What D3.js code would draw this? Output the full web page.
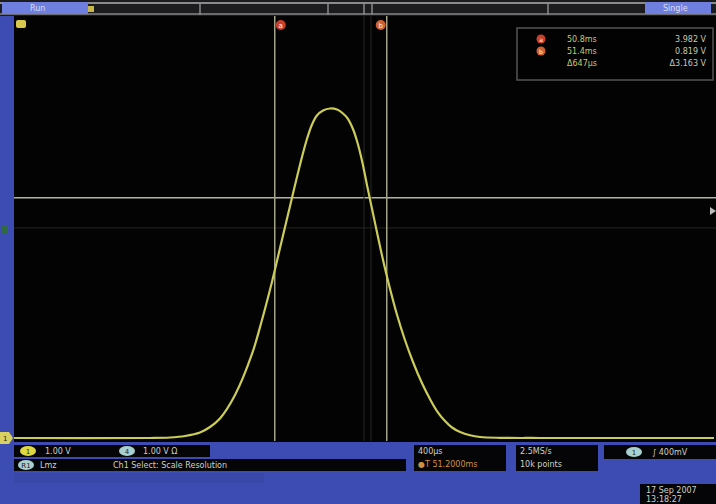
<!doctype html>
<html>
<head>
<meta charset="utf-8">
<title>Scope capture</title>
<script src="https://d3js.org/d3.v7.min.js"></script>
<style>
  body { margin: 0; background: #3d4cb3; }
  svg { display: block; }
  text { font-family: "DejaVu Sans", sans-serif; }
</style>
</head>
<body>
<script>
// trace: time in ms from left edge, volts
var timeMs = [0, 0.777, 0.891, 0.977, 1.063, 1.120, 1.177, 1.263, 1.360, 1.417, 1.474, 1.531, 1.589, 1.634, 1.674, 1.703, 1.731, 1.766, 1.806,
  1.846, 1.880, 1.909, 1.937, 1.960, 1.989, 2.017, 2.046, 2.080, 2.114, 2.149, 2.189, 2.234, 2.280, 2.331, 2.377, 2.417, 2.463, 2.503, 2.549, 2.606, 2.663, 2.777, 3.006, 4.0];
var volts  = [-3.943, -3.943, -3.934, -3.906, -3.840, -3.736, -3.575, -3.132, -2.358, -1.717, -1.000, -0.208, 0.594, 1.208, 1.698, 1.972, 2.142, 2.236, 2.274,
  2.255, 2.179, 2.075, 1.887, 1.660, 1.283, 0.830, 0.377, -0.151, -0.660, -1.132, -1.623, -2.094, -2.509, -2.906, -3.208, -3.434, -3.623, -3.745, -3.830, -3.892, -3.925, -3.940, -3.943, -3.943];

var cursorTimes = [1.49, 2.13];   // a, b vertical cursors
var cursorNames = ["a", "b"];
var markerShift = [6, -6];
var dimTimes = [2.00, 2.04];
var hCursorVolts = [0.59, 0.02];

var readLeft = ["50.8ms", "51.4ms", "Δ647μs"];
var readRight = ["3.982 V", "0.819 V", "Δ3.163 V"];

var W = 716, H = 504;
var svg = d3.select("body").append("svg").attr("width", W).attr("height", H);

// blue bezel
svg.append("rect").attr("width", W).attr("height", H).attr("fill", "#3d4cb3");

// screen
var x = d3.scaleLinear().domain([0, 4]).range([14, 714]);
var y = d3.scaleLinear().domain([-4, 4]).range([441, 17]);

svg.append("rect").attr("x", 14).attr("y", 16).attr("width", 702).attr("height", 426).attr("fill", "#030303");

// top bar
svg.append("rect").attr("x", 0).attr("y", 0).attr("width", W).attr("height", 16).attr("fill", "#1c1c1e");
svg.append("rect").attr("x", 0).attr("y", 2).attr("width", W).attr("height", 2).attr("fill", "#8a8a8a");
svg.append("rect").attr("x", 0).attr("y", 13).attr("width", W).attr("height", 2).attr("fill", "#6a6a6e");
svg.append("rect").attr("x", 2).attr("y", 2).attr("width", 86).attr("height", 12).attr("fill", "#6f7fe0");
svg.append("text").attr("x", 30).attr("y", 11).attr("font-size", 8).attr("fill", "#dde").text("Run");
svg.append("rect").attr("x", 88).attr("y", 6).attr("width", 6).attr("height", 6).attr("fill", "#c8b84a");
svg.append("rect").attr("x", 645).attr("y", 2).attr("width", 66).attr("height", 12).attr("fill", "#6f7fe0");
svg.append("text").attr("x", 663).attr("y", 11).attr("font-size", 8).attr("fill", "#dde").text("Single");
[200, 328, 364, 372, 548].forEach(function(px) {
  svg.append("line").attr("x1", px).attr("x2", px).attr("y1", 2).attr("y2", 15)
    .attr("stroke", "#8a8a8a").attr("stroke-width", 1.5);
});

// left strip markers
svg.append("rect").attr("x", 0).attr("y", 16).attr("width", 14).attr("height", 426).attr("fill", "#3d4cb3");
svg.append("rect").attr("x", 2).attr("y", 225).attr("width", 6).attr("height", 8).attr("fill", "#2f6a40");
svg.append("path").attr("d", "M0,432 L9,432 L13,438 L9,444 L0,444 Z").attr("fill", "#d8d060");
svg.append("text").attr("x", 3).attr("y", 441).attr("font-size", 7).attr("fill", "#222").text("1");
svg.append("rect").attr("x", 16).attr("y", 20).attr("width", 10).attr("height", 8).attr("rx", 2).attr("fill", "#d8c850");
svg.append("path").attr("d", "M710,207 L716,211 L710,215 Z").attr("fill", "#bbb");

// horizontal cursors
svg.selectAll(".hc").data(hCursorVolts).enter().append("line")
  .attr("x1", 14).attr("x2", 716)
  .attr("y1", function(d) { return y(d); }).attr("y2", function(d) { return y(d); })
  .attr("stroke", function(d, i) { return i == 0 ? "#b4b4a4" : "#262620"; })
  .attr("stroke-width", function(d, i) { return i == 0 ? 1.6 : 1; });

// dim vertical lines
svg.selectAll(".dv").data(dimTimes).enter().append("line")
  .attr("x1", function(d) { return x(d); }).attr("x2", function(d) { return x(d); })
  .attr("y1", 16).attr("y2", 441)
  .attr("stroke", "#262622").attr("stroke-width", 1);

// vertical cursors
svg.selectAll(".vc").data(cursorTimes).enter().append("line")
  .attr("x1", function(d) { return x(d); }).attr("x2", function(d) { return x(d); })
  .attr("y1", 16).attr("y2", 441)
  .attr("stroke", "#a4a488").attr("stroke-width", 1.5);

svg.selectAll(".cm").data(cursorTimes).enter().append("circle")
  .attr("cx", function(d, i) { return x(d) + markerShift[i]; })
  .attr("cy", 25).attr("r", 5)
  .attr("fill", function(d, i) { return i == 0 ? "#c8402a" : "#d06030"; });
svg.selectAll(".cl").data(cursorTimes).enter().append("text")
  .attr("x", function(d, i) { return x(d) + markerShift[i]; }).attr("y", 28)
  .attr("text-anchor", "middle").attr("font-size", 7).attr("fill", "#fff")
  .text(function(d, i) { return cursorNames[i]; });

// trace
var line = d3.line()
  .x(function(d, i) { return x(timeMs[i]); })
  .y(function(d) { return y(d); })
  .curve(d3.curveCatmullRom.alpha(0.5));
svg.append("path").datum(volts).attr("d", line)
  .attr("fill", "none").attr("stroke", "#cccc58").attr("stroke-width", 2.2);

// readout box
svg.append("rect").attr("x", 517).attr("y", 28).attr("width", 196).attr("height", 52)
  .attr("fill", "#020202").attr("stroke", "#555").attr("stroke-width", 1.5);
var rows = svg.selectAll(".ro").data(readLeft).enter().append("g");
rows.append("text").attr("x", 567).attr("y", function(d, i) { return 42 + i * 12; })
  .attr("font-size", 8).attr("fill", "#c8c86a").text(function(d) { return d; });
rows.append("text").attr("x", 706).attr("y", function(d, i) { return 42 + i * 12; })
  .attr("text-anchor", "end").attr("font-size", 8).attr("fill", "#c8c8b0").text(function(d, i) { return readRight[i]; });
[0, 1].forEach(function(i) {
  svg.append("circle").attr("cx", 541).attr("cy", 39 + i * 12).attr("r", 4.5)
    .attr("fill", i == 0 ? "#c8402a" : "#d06030");
  svg.append("text").attr("x", 541).attr("y", 41.5 + i * 12).attr("text-anchor", "middle")
    .attr("font-size", 6).attr("fill", "#fff").text(cursorNames[i]);
});

// bottom status panels
function panel(x0, y0, w, h) {
  svg.append("rect").attr("x", x0).attr("y", y0).attr("width", w).attr("height", h).attr("fill", "#050508");
}
function badge(cx, cy, col, label) {
  svg.append("ellipse").attr("cx", cx).attr("cy", cy).attr("rx", 8).attr("ry", 5).attr("fill", col);
  svg.append("text").attr("x", cx).attr("y", cy + 3).attr("text-anchor", "middle")
    .attr("font-size", 7).attr("fill", "#222").text(label);
}
function label(x0, y0, col, t) {
  svg.append("text").attr("x", x0).attr("y", y0).attr("font-size", 8).attr("fill", col).text(t);
}
panel(14, 445, 196, 12);
badge(28, 451, "#e0d840", "1");
label(45, 454, "#d0d0c0", "1.00 V");
badge(127, 451, "#a8d0d0", "4");
label(143, 454, "#d0d0c0", "1.00 V Ω");
panel(14, 459, 392, 12);
badge(26, 465, "#a8d0d0", "R1");
label(40, 468, "#d0d0c0", "Lmz");
label(113, 468, "#d0d0c0", "Ch1 Select:  Scale Resolution");
svg.append("rect").attr("x", 14).attr("y", 473).attr("width", 250).attr("height", 10).attr("fill", "#3847a8");

panel(414, 445, 92, 26);
label(418, 454, "#d0d0c0", "400μs");
label(418, 467, "#d09040", "●T 51.2000ms");
panel(516, 445, 82, 26);
label(520, 454, "#d0d0c0", "2.5MS/s");
label(520, 467, "#d0d0c0", "10k points");
panel(604, 445, 112, 14);
badge(634, 452, "#a8d0d0", "1");
label(652, 455, "#d0d0c0", "∫  400mV");
panel(640, 484, 76, 20);
label(646, 493, "#d0d0c0", "17 Sep 2007");
label(646, 502, "#d0d0c0", "13:18:27");
</script>
</body>
</html>
